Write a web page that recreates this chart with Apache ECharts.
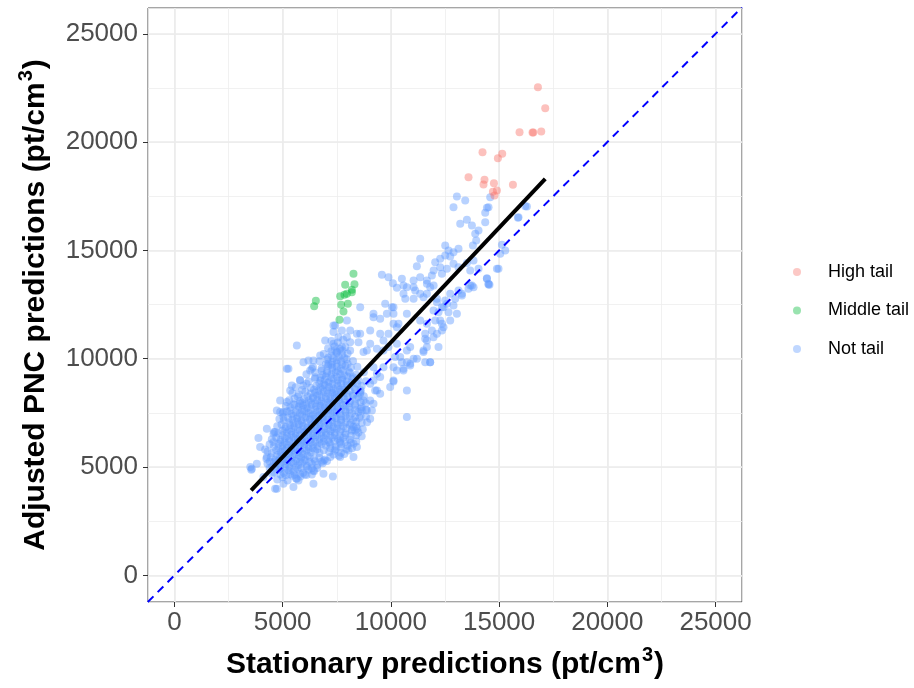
<!DOCTYPE html>
<html>
<head>
<meta charset="utf-8">
<script src="https://cdn.jsdelivr.net/npm/echarts@6/dist/echarts.min.js"></script>
<style>html,body{margin:0;padding:0;background:#fff;}#c{width:914px;height:688px;}</style>
</head>
<body>
<div id="c"></div>
<script>
// ---- data ----
const seriesNames = ['High tail', 'Middle tail', 'Not tail'];
const tickValues = [0, 5000, 10000, 15000, 20000, 25000];

const highTail = [
  [16793,22534],[17130,21565],[15943,20457],[16543,20443],[16580,20443],[16946,20489],
  [14233,19534],[15143,19460],[14944,19257],[13586,18381],[14325,18261],[14279,18043],
  [14760,18103],[15638,18030],[14713,17707],[14898,17767],[14787,17536]
];

const middleTail = [
  [8272,13922],[7888,13415],[8318,13443],[8198,13184],[8198,13074],[7967,13000],
  [7657,12889],[7856,12953],[6534,12676],[6456,12427],[7703,12492],[8013,12538],
  [7810,12183],[7625,11800]
];

const notTailCoreA = [
  [4750,4420],[5000,4530],[5230,4380],[5450,4600],[5620,4470],[5820,4560],[6020,4650],
  [4600,4760],[4850,4880],[5060,4720],[5260,4850],[5500,4790],[5700,4900],[5950,4740],[6200,4870],[6450,4800],
  [4300,5150],[4520,5020],[4700,5180],[4900,5060],[5120,5140],[5300,5030],[5500,5170],[5720,5080],[5900,5200],[6120,5050],[6350,5150],[6600,5090],[6850,5180],
  [4250,5380],[4450,5450],[4660,5330],[4850,5470],[5050,5390],[5260,5330],[5450,5460],[5650,5370],[5860,5440],[6050,5340],[6250,5480],[6460,5380],[6700,5430],[6950,5350],[7200,5460],
  [4300,5720],[4500,5640],[4700,5780],[4900,5690],[5100,5750],[5300,5640],[5500,5780],[5700,5700],[5900,5630],[6100,5760],[6300,5680],[6500,5740],[6700,5650],[6900,5780],[7150,5690],[7400,5750],[7700,5660],
  [4400,6050],[4600,5950],[4800,6070],[5000,5980],[5200,6040],[5400,5930],[5600,6080],[5800,5990],[6000,6060],[6200,5940],[6400,6030],[6600,5960],[6800,6080],[7000,5990],[7200,6050],[7450,5940],[7700,6060],[8000,5980],
  [4500,6280],[4700,6360],[4900,6250],[5100,6340],[5300,6270],[5500,6380],[5700,6290],[5900,6230],[6100,6350],[6300,6260],[6500,6370],[6700,6280],[6900,6340],[7100,6240],[7300,6360],[7550,6290],[7800,6350],[8100,6260],
  [4600,6620],[4800,6550],[5000,6680],[5200,6590],[5400,6640],[5600,6540],[5800,6670],[6000,6590],[6200,6630],[6400,6550],[6600,6680],[6800,6600],[7000,6560],[7200,6660],[7400,6580],[7650,6640],[7900,6560],[8200,6670],[8500,6590],
  [4750,6880],[4950,6960],[5150,6850],[5350,6940],[5550,6870],[5750,6980],[5950,6890],[6150,6830],[6350,6950],[6550,6860],[6750,6970],[6950,6880],[7150,6940],[7350,6840],[7550,6960],[7800,6880],[8100,6950],[8400,6860],
  [4850,7220],[5050,7150],[5250,7280],[5450,7190],[5650,7240],[5850,7140],[6050,7270],[6250,7190],[6450,7230],[6650,7150],[6850,7280],[7050,7200],[7250,7160],[7450,7260],[7700,7180],[7950,7240],[8250,7160],[8550,7270],
  [5000,7480],[5200,7560],[5400,7450],[5600,7540],[5800,7470],[6000,7580],[6200,7490],[6400,7430],[6600,7550],[6800,7460],[7000,7570],[7200,7480],[7400,7540],[7650,7440],[7900,7560],[8200,7480],[8500,7540],
  [5150,7820],[5350,7750],[5550,7880],[5750,7790],[5950,7840],[6150,7740],[6350,7870],[6550,7790],[6750,7830],[6950,7750],[7150,7880],[7350,7800],[7550,7760],[7800,7860],[8050,7780],[8350,7840],[8650,7760],
  [5300,8080],[5550,8160],[5800,8050],[6000,8140],[6200,8070],[6400,8180],[6600,8090],[6800,8030],[7000,8150],[7200,8060],[7400,8170],[7600,8080],[7850,8140],[8100,8040],[8400,8160],
  [5450,8420],[5750,8350],[6050,8480],[6300,8390],[6500,8440],[6700,8340],[6900,8470],[7100,8390],[7300,8430],[7500,8350],[7700,8480],[7950,8400],[8250,8360],[8600,8460],
  [5600,8680],[5950,8760],[6300,8650],[6550,8740],[6750,8670],[6950,8780],[7150,8690],[7350,8630],[7550,8750],[7750,8660],[8000,8770],[8300,8680],[8650,8740],
  [5800,9020],[6200,8950],[6500,9080],[6750,8990],[6950,9040],[7150,8940],[7350,9070],[7550,8990],[7750,9030],[7950,8950],[8200,9080],[8500,9000],[8850,8960],
  [6100,9280],[6500,9360],[6850,9250],[7050,9340],[7250,9270],[7450,9380],[7650,9290],[7850,9230],[8100,9350],[8400,9260],[8750,9370],
  [6400,9620],[6800,9550],[7100,9680],[7300,9590],[7500,9640],[7700,9540],[7900,9670],[8150,9590],[8450,9630],
  [6700,9880],[7050,9960],[7300,9850],[7500,9940],[7700,9870],[7950,9980],[8250,9890],
  [6900,10220],[7250,10150],[7500,10280],[7750,10190],[8000,10240],
  [7100,10480],[7400,10560],[7650,10450],[7900,10540],
  [7250,10820],[7550,10750],[7800,10880]
];

const notTailCoreB = [
  [4750,5560],[4950,5520],[5150,5590],[5350,5540],[5550,5600],[5750,5530],[5950,5580],[6150,5520],
  [4800,5870],[5000,5820],[5200,5890],[5400,5840],[5600,5860],[5800,5810],[6000,5880],[6200,5830],[6400,5870],[6600,5820],
  [4900,6170],[5100,6120],[5300,6190],[5500,6130],[5700,6160],[5900,6110],[6100,6180],[6300,6130],[6500,6170],[6700,6120],[6900,6180],
  [5000,6470],[5200,6420],[5400,6490],[5600,6430],[5800,6460],[6000,6410],[6200,6480],[6400,6430],[6600,6470],[6800,6420],[7000,6480],[7200,6440],
  [5100,6770],[5300,6720],[5500,6790],[5700,6730],[5900,6760],[6100,6710],[6300,6780],[6500,6730],[6700,6770],[6900,6720],[7100,6780],[7300,6740],[7500,6770],
  [5300,7070],[5500,7020],[5700,7090],[5900,7030],[6100,7060],[6300,7010],[6500,7080],[6700,7030],[6900,7070],[7100,7020],[7300,7080],[7500,7040],[7700,7070],
  [5500,7370],[5700,7320],[5900,7390],[6100,7330],[6300,7360],[6500,7310],[6700,7380],[6900,7330],[7100,7370],[7300,7320],[7500,7380],[7700,7340],[7900,7370],
  [5700,7670],[5900,7620],[6100,7690],[6300,7630],[6500,7660],[6700,7610],[6900,7680],[7100,7630],[7300,7670],[7500,7620],[7700,7680],[7900,7640],
  [5900,7970],[6100,7920],[6300,7990],[6500,7930],[6700,7960],[6900,7910],[7100,7980],[7300,7930],[7500,7970],[7700,7920],[7900,7980],
  [6150,8270],[6400,8220],[6600,8290],[6800,8230],[7000,8260],[7200,8210],[7400,8280],[7600,8230],[7800,8270],
  [6450,8570],[6650,8520],[6850,8590],[7050,8530],[7250,8560],[7450,8510],[7650,8580],
  [6700,8870],[6900,8820],[7100,8890],[7300,8830],[7500,8860]
];

const notTailCoreC = [
  [4900,4650],[5150,4620],[5350,4680],[5550,4640],[5800,4690],[6100,4630],[6350,4660],
  [4400,4950],[4650,4980],[4900,4930],[5100,4970],[5350,4940],[5600,4990],[5850,4950],[6100,4980],[6350,4940],[6600,4960],
  [4400,5260],[4600,5230],[4800,5290],[5000,5240],[5200,5270],[5400,5220],[5600,5280],[5800,5240],[6000,5290],[6250,5230],[6500,5270],[6800,5240],[7050,5280],
  [7350,5580],[7600,5520],[7850,5600],
  [7200,5880],[7450,5820],[7700,5890],[7950,5830],[8200,5870],
  [7150,6150],[7400,6190],[7650,6130],[7900,6170],[8150,6120],[8400,6180],
  [7400,6470],[7650,6420],[7900,6490],[8150,6440],[8400,6470],[8650,6420],
  [7700,6750],[7950,6790],[8200,6730],[8450,6770],[8700,6740],
  [7900,7060],[8150,7020],[8400,7090],[8650,7040],[8900,7070],
  [8100,7350],[8350,7310],[8600,7380],[8850,7330],
  [8100,7660],[8350,7620],[8600,7680],[8850,7640],
  [8100,7960],[8350,7920],[8600,7990],[8850,7940],
  [8000,8250],[8250,8290],[8500,8230],[8750,8270],
  [7850,8560],[8100,8520],[8350,8590],[8600,8540],
  [7700,8860],[7950,8820],[8200,8890],[8450,8840],
  [6500,9150],[6750,9120],[7000,9180],[7250,9130],[7500,9170],[7750,9120],[8000,9180],[8250,9140],
  [6800,9450],[7050,9420],[7300,9480],[7550,9430],[7800,9470],[8050,9420],
  [7000,9750],[7250,9720],[7500,9780],[7750,9730],[8000,9770],
  [7100,10050],[7350,10020],[7600,10080],[7850,10030],
  [7250,10350],[7500,10320],[7750,10380],
  [5700,8250],[5900,8560],[6100,8850],[5500,7900],[5350,7600]
];

const notTailOuter = [
  [3507,5000],[3550,4880],[4731,4000],[5656,4462],[7320,4569],[10739,7305],[10120,8953],[11201,10000],[12431,11458],
  [5194,9538],[5425,8768],[4270,6770],[3882,6336],[4191,5814],[7348,11537],
  [3577,4924],[4113,4536],[4653,4001],[5730,4384],[6423,4845],[4575,6151],[4653,6613],[4884,7536],[5194,7997],
  [8350,6691],[8272,6077],[8041,5768],[7657,5459],[6885,5307],[9196,7923],[9353,8537],[8660,7614],
  [5656,10614],[5961,9843],[5268,9538],[6349,9538],[6192,9922],[6733,10152],[7117,9769],[7426,11537],[7736,11306],
  [8119,11306],[7348,11228],[7579,10997],[7967,10997],[8119,10766],[7348,10692],[7736,10536],[7426,10383],[8503,10766],
  [8582,11154],[9044,11306],[9196,12077],[9505,11846],[9815,12077],[9737,12538],[10120,11615],[9889,11154],[9044,10692],
  [8734,10305],[9353,10461],[9658,10383],[10277,10692],[10430,10074],[10739,9843],[11049,10000],[10120,8999],[10277,9460],
  [10739,8537],[9122,7614],[8734,8076],[9044,8076],[5037,7536],[5809,7923],[5347,8537],[4884,8076],
  [10046,12381],[10120,12077],[10351,11615],[10277,11458],[10582,13383],[11049,13304],[11354,13000],[11664,13461],
  [11974,13383],[11049,12769],[11507,12843],[10665,12769],[12126,12612],[12357,12381],[12588,12538],[12200,12150],
  [12662,12150],[13050,12077],[12740,11768],[12357,11615],[12047,11768],[11664,11615],[11894,11306],[11585,11154],
  [11585,10923],[11968,10997],[12357,11306],[12200,10536],[11664,10536],[11507,10305],[11816,9843],[11585,9843],
  [10892,10536],[10739,10383],[9658,10845],[9889,10536],[10199,10074],[10508,9843],[10582,9538],[10892,9691],
  [9658,9612],[9353,9308],[9196,8999],[9274,8537],[13665,13383],[13817,13304],[14510,13429],
  [13050,17490],[12893,16996],[14510,16996],[14358,16737],[13512,16414],[13203,16230],[14358,16304],[13743,16151],
  [14048,15921],[13896,15768],[13942,15459],[13789,15228],[12510,15228],[12662,14998],[12893,14920],[13124,15076],
  [12510,14767],[12740,14721],[12278,14615],[15129,15261],[15282,14998],[15051,14845],[16284,17028],[15896,16535],
  [11354,14615],[12047,14457],[12278,14227],[11974,14075],[11894,13844],[12357,13922],[12588,14153],[12893,14384],
  [11664,13613],[11049,13613],[11354,13766],[10739,13304],[10582,13000],[11123,13152],[11816,13304],[13512,14415],
  [13817,14536],[13124,14227],[13665,14075],[14048,14153],[14436,13692],[14898,14153],[13743,13383],[13586,13230],
  [14510,13461],[13124,13152],[13281,12921],[12740,13000],[12510,12690],[12126,12769],[12893,12460],[12431,12381],
  [13434,17305],[14436,16968],[14589,17457],[14972,14153],[14556,13415],[14436,13719],[13281,13000],[12972,12769],
  [16206,17042],[15869,16507],
  [9584,13876],[9889,13766],[10092,13489],[10277,13276],[10508,13692],[11201,14273],[11664,13000],
  [8274,6844],[9043,7231],[8891,7614],[7657,6230],[8429,5921],[8272,5459],[9505,8385],[9968,8690],[9505,9151],
  [10120,9612],[10582,9460],[10892,9769],[11506,10383],[11664,10845],[12126,11154],[12278,11768],[11816,9843],
  [9043,8846],[8582,8385],[9196,9612],[8891,10383],[9505,11154],[9196,11920],[8429,11154],[8119,10383],[8582,12381],
  [7967,11768],[10120,12381],[10739,12077],[11354,11768],[11968,12229],
  [6423,9922],[6964,10845],[6271,9460],[5809,8999],[4731,7614],[5037,7305],[4575,6539],[3960,5921],[4270,5459],
  [3808,5154],[4500,4693],[5037,4232],[5499,4075],[6423,4232],[6885,4693]
];

const fitLine = [[3545,3922],[17130,18306]];
const identityLine = [[-1230,-1230],[26220,26220]];

const xRange = [-1220, 26220];
const yRange = [-1230, 26190];

// ---- chart ----
const FONT = '"Liberation Sans", Arial, Helvetica, sans-serif';
const notTail = notTailCoreA.concat(notTailCoreB, notTailCoreC, notTailOuter);
const colors = {'High tail':'#F8766D','Middle tail':'#00BA38','Not tail':'#619CFF'};

const titleRich = {
  b: {fontFamily: FONT, fontSize: 30, fontWeight: 'bold', color: '#000', lineHeight: 36, verticalAlign: 'bottom'},
  s: {fontFamily: FONT, fontSize: 20, fontWeight: 'bold', color: '#000', lineHeight: 20, verticalAlign: 'bottom', padding: [0, 1, 15, 1]}
};

function majorAxis(range, isX) {
  return {
    type: 'value', min: range[0], max: range[1],
    minInterval: 5000, maxInterval: 5000,
    name: isX ? '{b|Stationary predictions (pt/cm}{s|3}{b|)}' : '{b|Adjusted PNC predictions (pt/cm}{s|3}{b|)}',
    nameLocation: 'middle',
    nameGap: isX ? 42 : 97,
    nameRotate: isX ? 0 : 90,
    nameTextStyle: {rich: titleRich},
    axisLine: {show: false, onZero: false},
    axisTick: {show: true, length: 5, inside: false, customValues: tickValues,
               lineStyle: {color: '#333333', width: 1}},
    axisLabel: {show: true, customValues: tickValues, margin: isX ? 8 : 10,
                fontFamily: FONT, fontSize: 26, color: '#4D4D4D',
                formatter: v => String(v)},
    splitLine: {show: true, lineStyle: {color: '#EBEBEB', width: 1.6}},
    minorTick: {show: false},
    z: 1
  };
}
function minorAxis(range) {
  return {
    type: 'value', min: range[0], max: range[1],
    minInterval: 2500, maxInterval: 2500,
    axisLine: {show: false, onZero: false}, axisTick: {show: false}, axisLabel: {show: false},
    splitLine: {show: true, lineStyle: {color: '#EEEEEE', width: 0.8}},
    z: 0
  };
}

const chart = echarts.init(document.getElementById('c'), null, {renderer: 'canvas'});
const scatterBase = (name, data) => ({
  name, type: 'scatter', data, xAxisIndex: 0, yAxisIndex: 0,
  symbol: 'circle', symbolSize: 8,
  itemStyle: {color: colors[name], opacity: 0.45},
  emphasis: {disabled: true}, silent: true, large: false
});

chart.setOption({
  animation: false,
  backgroundColor: '#fff',
  grid: {left: 148, right: 172, top: 8, bottom: 86, show: true,
         borderColor: '#4D4D4D', borderWidth: 1, backgroundColor: 'transparent', containLabel: false},
  xAxis: [majorAxis(xRange, true), minorAxis(xRange)],
  yAxis: [majorAxis(yRange, false), minorAxis(yRange)],
  legend: {
    orient: 'vertical', left: 793, top: 262, padding: 0,
    itemWidth: 8, itemHeight: 8, itemGap: 18.5, icon: 'circle',
    data: seriesNames.map(n => ({name: n, itemStyle: {color: colors[n], opacity: 0.4}})),
    textStyle: {fontFamily: FONT, fontSize: 18, color: '#000', lineHeight: 20, padding: [0, 0, 0, 22]},
    selectedMode: false
  },
  series: [
    scatterBase('Not tail', notTail),
    scatterBase('Middle tail', middleTail),
    scatterBase('High tail', highTail),
    {type: 'line', data: fitLine, showSymbol: false, symbol: 'none', silent: true,
     lineStyle: {color: '#000000', width: 4, cap: 'butt'}, z: 5},
    {type: 'line', data: identityLine, showSymbol: false, symbol: 'none', silent: true, clip: true,
     lineStyle: {color: '#0000FF', width: 2, type: [8, 6]}, z: 6}
  ]
});
</script>
</body>
</html>
